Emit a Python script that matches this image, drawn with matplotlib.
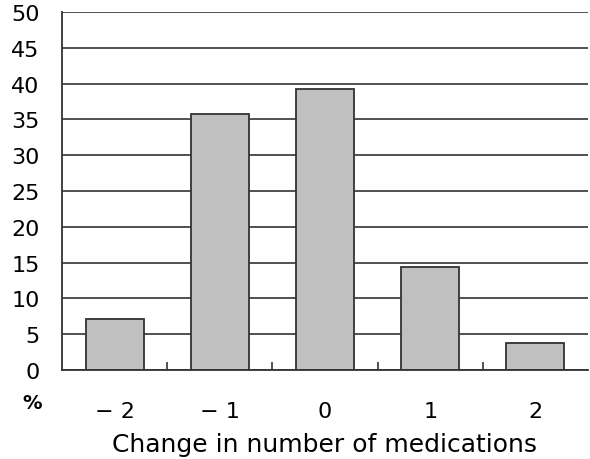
import matplotlib.pyplot as plt

# Change in number of medications vs. percentage of patients
categories = ['\u2212 2', '\u2212 1', '0', '1', '2']
percent = [7.1, 35.8, 39.2, 14.4, 3.8]
yticks = list(range(0, 51, 5))

fig = plt.figure(figsize=(5.9, 4.6), dpi=100)
ax = fig.add_axes([62 / 590, 1 - 371 / 460, 526 / 590, 358 / 460])

x = range(len(categories))
ax.set_axisbelow(True)
ax.yaxis.grid(True, color='#333333', linewidth=1.2)
ax.bar(x, percent, width=0.55, color='#c0c0c0', edgecolor='#333333', linewidth=1.3)

ax.set_xlim(-0.5, len(categories) - 0.5)
ax.set_ylim(0, 50)
ax.set_yticks(yticks)
ax.set_xticks(list(x))
ax.set_xticklabels(categories)
ax.set_xticks([i + 0.5 for i in range(len(categories) - 1)], minor=True)

for s in ['top', 'right']:
    ax.spines[s].set_visible(False)
for s in ['left', 'bottom']:
    ax.spines[s].set_color('#333333')
    ax.spines[s].set_linewidth(1.3)

ax.tick_params(axis='y', length=0, pad=16, labelsize=16)
ax.tick_params(axis='x', which='major', length=0, pad=22, labelsize=16)
ax.tick_params(axis='x', which='minor', direction='in', length=6, color='#333333', width=1.2)

ax.set_xlabel('Change in number of medications', fontsize=18, labelpad=8)
fig.text(32 / 590, 1 - 404 / 460, '%', fontsize=14, fontweight='bold', ha='center', va='center')

fig.savefig('out.png', dpi=100)
